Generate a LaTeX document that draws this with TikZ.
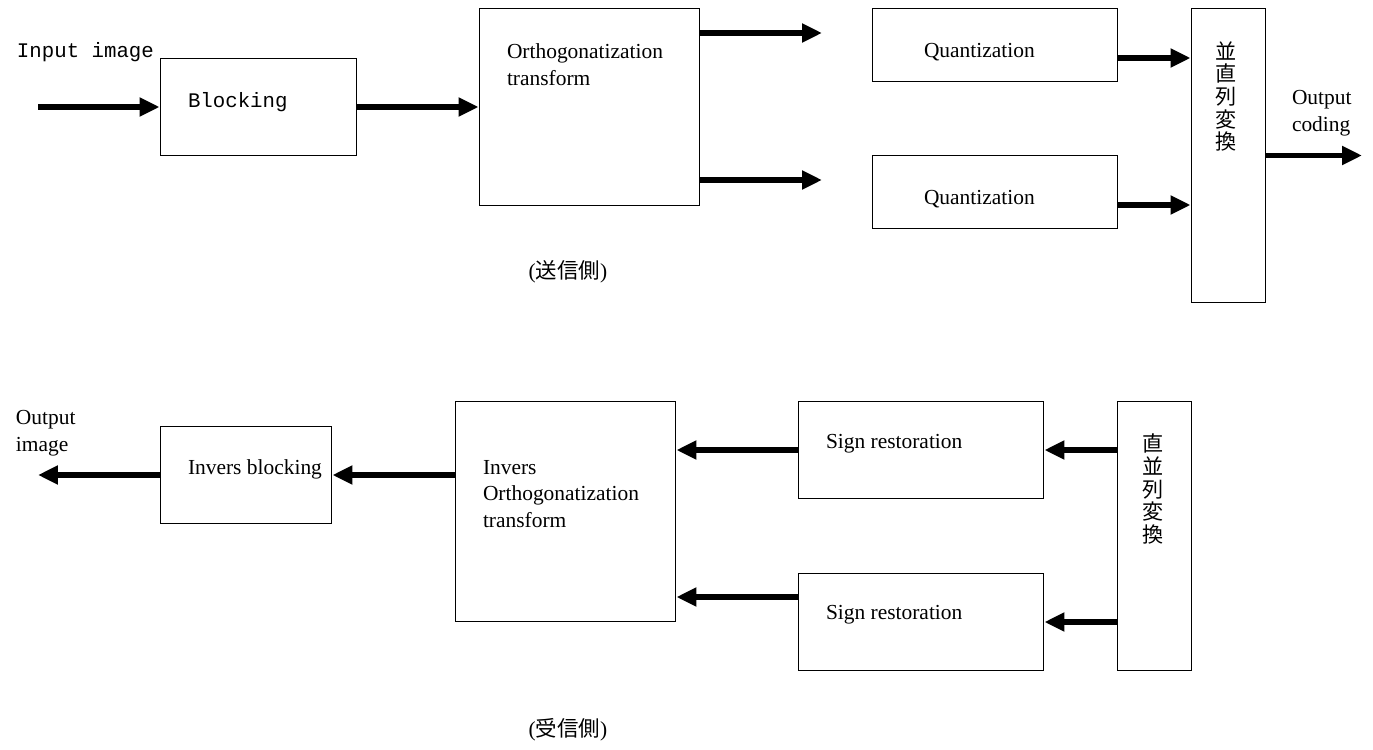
\documentclass[tikz,border=0pt]{standalone}
\usepackage{fontspec}
\setmainfont{Liberation Serif}
\setmonofont{Liberation Mono}
\newfontfamily\cjk{Noto Sans CJK JP}
\usetikzlibrary{arrows.meta}

\begin{document}
\begin{tikzpicture}[x=0.02cm,y=-0.02cm,->,>={Triangle[length=0.4cm,width=0.36cm]},
    line width=0.12cm,
    box/.style={draw,line width=0.02cm,inner sep=0pt},
    txt/.style={anchor=west,inner sep=0pt,align=left,font=\fontsize{12.2}{15.2}\selectfont},
    mono/.style={anchor=west,inner sep=0pt,font=\ttfamily\fontsize{11.8}{14}\selectfont},
    vcjk/.style={inner sep=0pt,align=center,font=\cjk\fontsize{12}{12.9}\selectfont}]

\useasboundingbox (0,0) rectangle (1373,750);

% sending side
\node[box, minimum width=3.94cm, minimum height=1.96cm] (blocking) at (258.5,107) {};
\node[box, minimum width=4.42cm, minimum height=3.94cm] (ortho) at (589.5,107) {};
\node[box, minimum width=4.92cm, minimum height=1.48cm] (quant1) at (995,45) {};
\node[box, minimum width=4.92cm, minimum height=1.48cm] (quant2) at (995,192) {};
\node[box, minimum width=1.48cm, minimum height=5.9cm] (ps) at (1228,155.5) {};

\node[mono] (inlbl) at (14,52) {Input image};
\node[mono] (blocklbl) at (185,102) {Blocking};
\node[txt] (ortholbl) at (504,64.5) {Orthogonatization\\transform};
\node[txt] (q1lbl) at (921,52) {Quantization};
\node[txt] (q2lbl) at (921,199) {Quantization};
\node[vcjk] (pslbl) at (1226,96.5) {並\\直\\列\\変\\換};
\node[txt] (outclbl) at (1289,113.5) {Output\\coding};
\node[inner sep=0pt,font=\fontsize{12.2}{15}\selectfont] (send) at (568,272) {({\cjk 送信側})};

\coordinate (inpt) at (38,107);
\coordinate (o1) at (822,33);
\coordinate (o2) at (822,180);
\coordinate (outc) at (1362,155.5);
\path (quant1.east) ++(0,13) coordinate (q1o);
\path (quant2.east) ++(0,13) coordinate (q2o);

\path (inpt) edge (blocking.west)
(blocking.east) edge (ortho.west)
(o1 -| ortho.east) edge (o1)
(o2 -| ortho.east) edge (o2)
(q1o) edge (q1o -| ps.west)
(q2o) edge (q2o -| ps.west)
(ps.east) edge (outc);

% receiving side
\node[box, minimum width=3.44cm, minimum height=1.96cm] (invblock) at (246,475) {};
\node[box, minimum width=4.42cm, minimum height=4.42cm] (invortho) at (565.5,511.5) {};
\node[box, minimum width=4.92cm, minimum height=1.96cm] (sign1) at (921,450) {};
\node[box, minimum width=4.92cm, minimum height=1.96cm] (sign2) at (921,622) {};
\node[box, minimum width=1.48cm, minimum height=5.4cm] (sp) at (1154,536) {};

\node[txt] (outilbl) at (13,433) {Output\\image};
\node[txt] (invblocklbl) at (185,469) {Invers blocking};
\node[txt] (invortholbl) at (480,494) {Invers\\Orthogonatization\\transform};
\node[txt] (s1lbl) at (823,444) {Sign restoration};
\node[txt] (s2lbl) at (823,615) {Sign restoration};
\node[vcjk] (splbl) at (1153,489) {直\\並\\列\\変\\換};
\node[inner sep=0pt,font=\fontsize{12.2}{15}\selectfont] (recv) at (568,730) {({\cjk 受信側})};

\coordinate (outi) at (38,475);
\path (sign2.west) ++(0,-25) coordinate (s2o);

\path (sp.west |- sign1.east) edge (sign1.east)
(sp.west |- sign2.east) edge (sign2.east)
(sign1.west) edge (sign1.west -| invortho.east)
(s2o) edge (s2o -| invortho.east)
(invortho.west |- invblock.east) edge (invblock.east)
(invblock.west) edge (outi);

\end{tikzpicture}
\end{document}
